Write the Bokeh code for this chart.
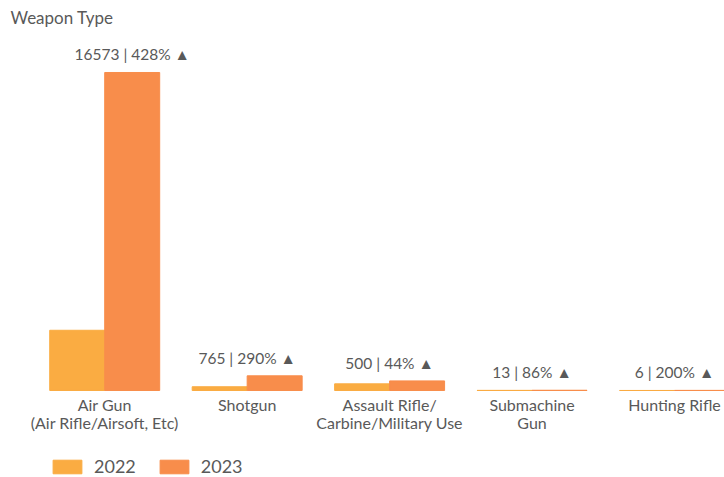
from bokeh.plotting import figure
from bokeh.models import Range1d, Legend, LegendItem, ColumnDataSource
from bokeh.transform import dodge
from bokeh.core.properties import value
from bokeh.embed import file_html
from bokeh.resources import INLINE

categories = ["Air Gun", "Shotgun", "Assault Rifle", "Submachine Gun", "Hunting Rifle"]
tick_labels = ["Air Gun\n(Air Rifle/Airsoft, Etc)", "Shotgun",
               "Assault Rifle/\nCarbine/Military Use", "Submachine\nGun", "Hunting Rifle"]
values_2022 = [3139, 196, 347, 7, 2]
values_2023 = [16573, 765, 500, 13, 6]
pct_change = [428, 290, 44, 86, 200]

C22 = "#FAAC42"
C23 = "#F88D4B"
TXT = "#595959"
FONT = "Lato"
bw = 0.386

idx = list(range(len(categories)))
vmax = max(values_2023)
# the label of the tallest group sits over its 2023 bar, the others over the group centre
lab_x = [i + bw / 2 if v == vmax else i for i, v in zip(idx, values_2023)]
src = ColumnDataSource(dict(
    idx=idx, v22=values_2022, v23=values_2023, lab_x=lab_x,
    zero=[0] * len(idx), cat=tick_labels,
    top=[max(a, b) for a, b in zip(values_2022, values_2023)],
    lab=[f"{v} | {p}% \u25B2" for v, p in zip(values_2023, pct_change)],
))

p = figure(frame_width=696, frame_height=445, output_backend="svg", toolbar_location=None,
           x_range=Range1d(-0.535, 4.351), y_range=Range1d(-4534, 18657),
           min_border_left=28, min_border_right=0, min_border_top=32, min_border_bottom=0,
           title="Weapon Type")
p.outline_line_color = None
p.xgrid.visible = False
p.ygrid.visible = False
p.yaxis.visible = False
p.xaxis.visible = False

p.title.text_font = FONT
p.title.text_font_size = "17px"
p.title.text_font_style = "normal"
p.title.text_color = TXT
p.title.align = "left"
p.title.vertical_align = "top"
p.title.offset = -18
p.title.standoff = 5

r1 = p.vbar(x=dodge("idx", -bw / 2, range=p.x_range), top="v22", width=bw, source=src,
            fill_color=C22, line_color=C22, line_width=1)
r2 = p.vbar(x=dodge("idx", bw / 2, range=p.x_range), top="v23", width=bw, source=src,
            fill_color=C23, line_color=C23, line_width=1)

# value labels above each group
p.text(x="lab_x", y="top", text="lab", source=src, y_offset=-9,
       text_align="center", text_baseline="bottom",
       text_font=value(FONT), text_font_size="15.5px", text_color=TXT)

# category labels under the baseline
p.text(x="idx", y="zero", text="cat", source=src, y_offset=5,
       text_align="center", text_baseline="top", text_line_height=0.94,
       text_font=value(FONT), text_font_size="16px", text_color=TXT)

legend = Legend(items=[LegendItem(label="2022", renderers=[r1]),
                       LegendItem(label="2023", renderers=[r2])],
                orientation="horizontal", location=(21, 0),
                glyph_width=36, glyph_height=17, label_standoff=9, spacing=20,
                padding=0, margin=0, border_line_color=None, background_fill_alpha=0,
                label_text_font=FONT, label_text_font_size="18px", label_text_color=TXT)
p.add_layout(legend)

open("out.html", "w").write(file_html(p, INLINE))
